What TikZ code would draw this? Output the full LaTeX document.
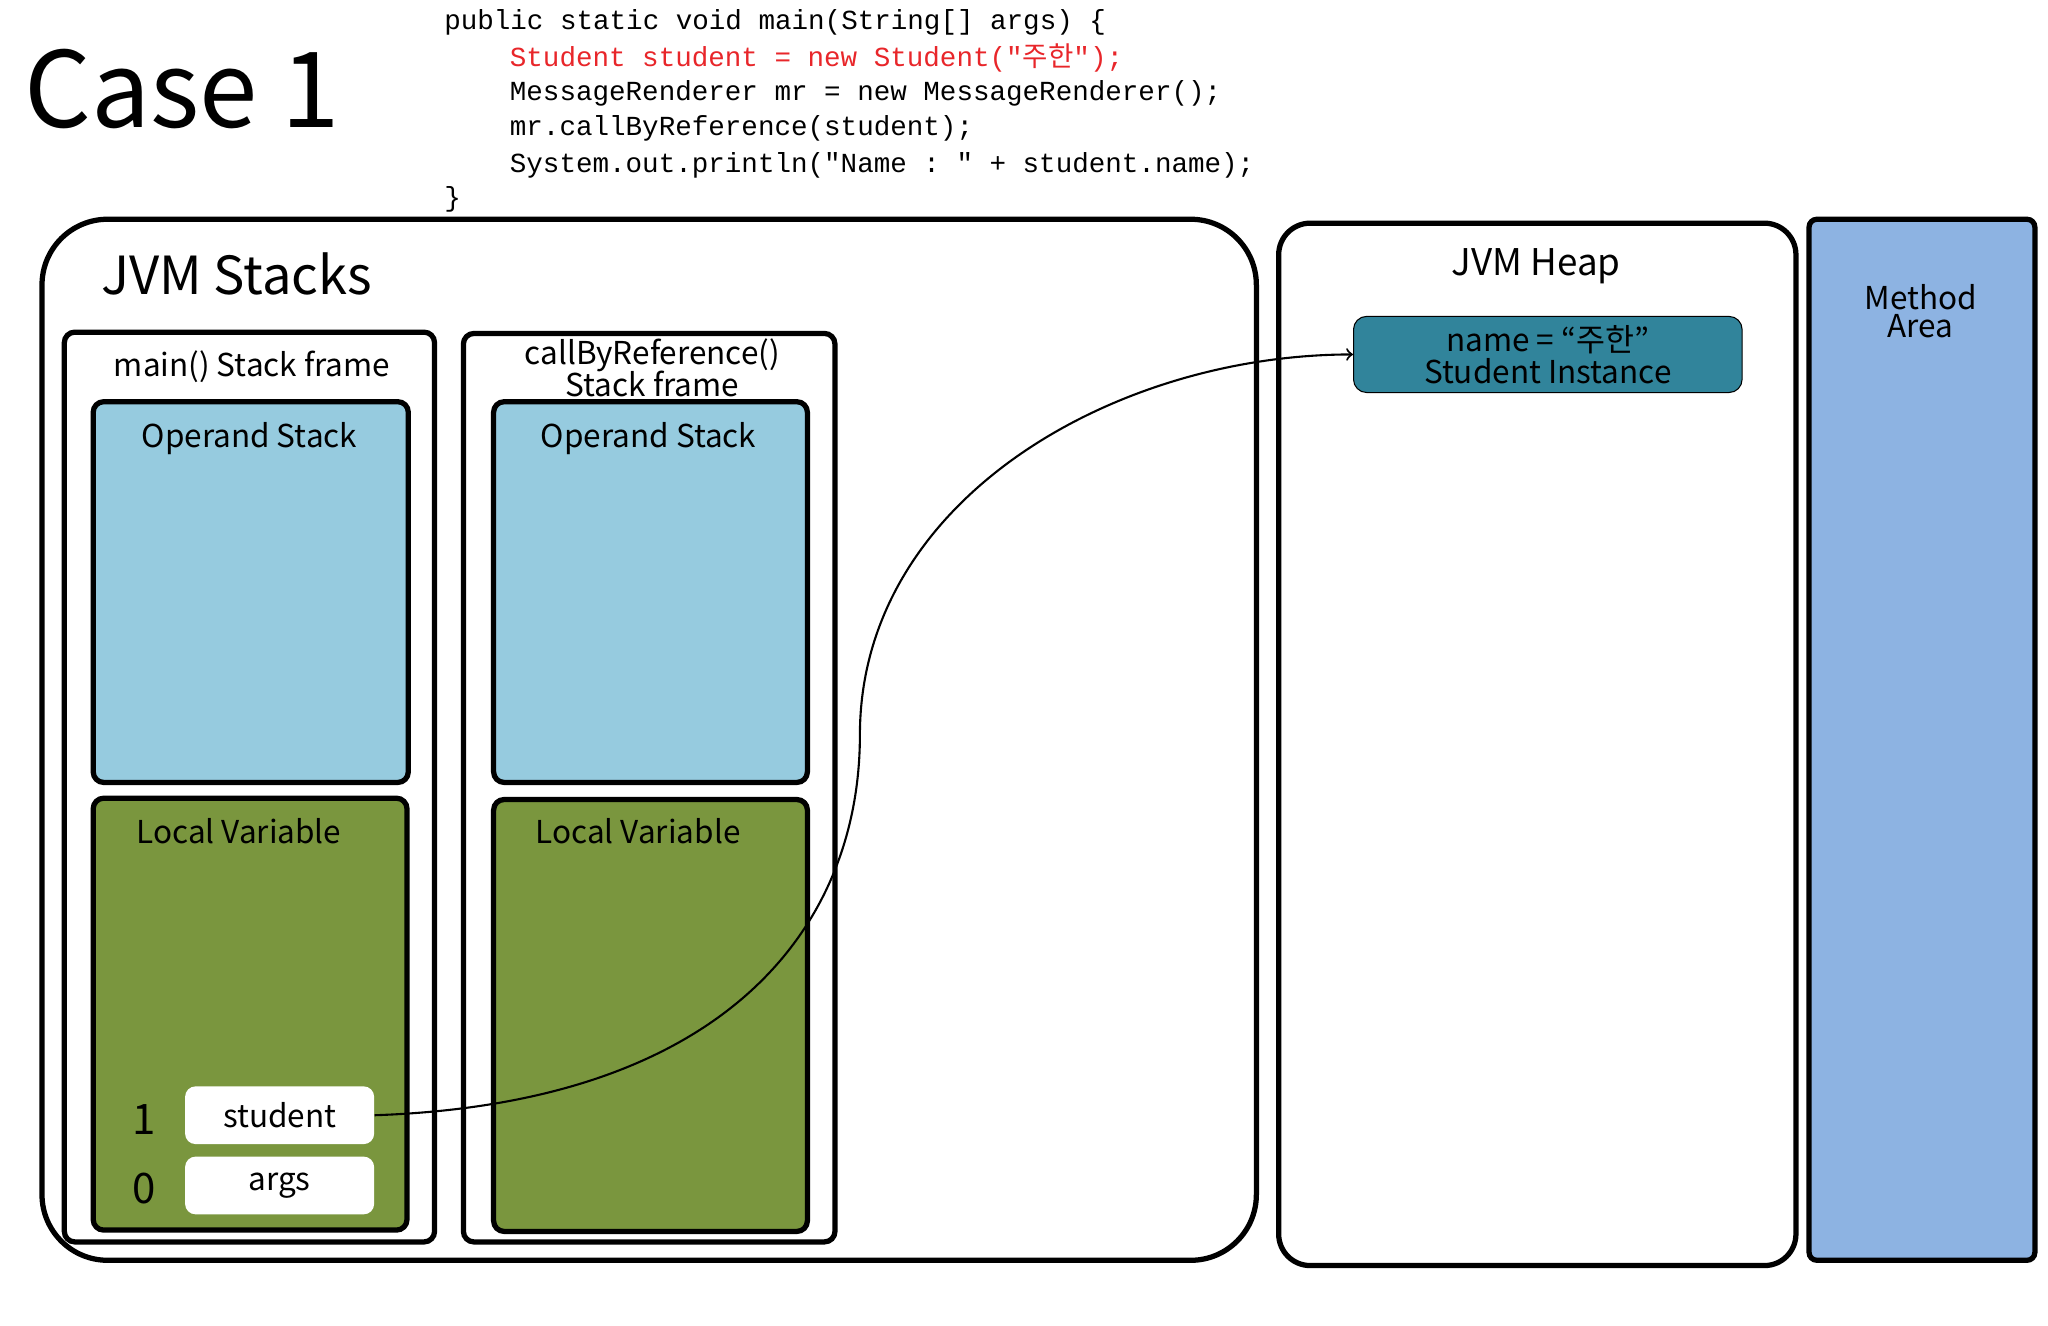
\documentclass[tikz,border=0pt]{standalone}
\usepackage{fontspec}
\setmainfont{Noto Sans CJK KR}
\setmonofont{Liberation Mono}
\newfontfamily\kr{Noto Sans CJK KR}
\begin{document}
\begin{tikzpicture}[x=0.5pt,y=-0.5pt,
  frame/.style={draw,line width=2pt,rounded corners=6pt},
  opbox/.style={draw,line width=2pt,rounded corners=4pt,fill=opblue},
  lvbox/.style={draw,line width=2pt,rounded corners=4pt,fill=lvgreen},
  slot/.style={fill=white,rounded corners=4pt},
  lbl/.style={font=\fontsize{12}{14}\selectfont},
  code/.style={anchor=west,font=\ttfamily\fontsize{10.5}{12}\selectfont,inner sep=0pt}]
\definecolor{opblue}{HTML}{96CBDF}
\definecolor{lvgreen}{HTML}{7A963E}
\definecolor{heapteal}{HTML}{31849B}
\definecolor{methblue}{HTML}{8DB3E2}
\definecolor{codered}{HTML}{E8262A}
\useasboundingbox (0,0) rectangle (1560,1010);
\node[anchor=west,font=\fontsize{40}{44}\selectfont,inner sep=0pt] (case) at (18,68) {Case 1};
\node[code] (c1) at (338,17) {public static void main(String[] args) \{};
\node[code,text=codered] (c2) at (388,44) {Student student = new Student("{\kr 주한}");};
\node[code] (c3) at (388,71) {MessageRenderer mr = new MessageRenderer();};
\node[code] (c4) at (388,98) {mr.callByReference(student);};
\node[code] (c5) at (388,126) {System.out.println("Name : " + student.name);};
\node[code] (c6) at (338,152) {\}};
% stacks
\draw[frame,rounded corners=25pt] (32,167) rectangle (957,960);
\node[anchor=west,font=\fontsize{20}{24}\selectfont] (js) at (70,209) {JVM Stacks};
\draw[frame,rounded corners=4pt] (49,253) rectangle (331,946);
\node[lbl] (mt) at (192,279) {main() Stack frame};
\draw[opbox] (71,306) rectangle (311,596);
\node[lbl] (o1) at (190,334) {Operand Stack};
\draw[lvbox] (71,608) rectangle (310,937);
\node[lbl] (l1) at (182,633) {Local Variable};
\node[slot,minimum width=72pt,minimum height=22pt,lbl] (st) at (213,849.5) {student};
\node[slot,minimum width=72pt,minimum height=22pt,lbl] (ar) at (213,903) {args};
\node[font=\fontsize{16}{18}\selectfont] (n1) at (110,853) {1};
\node[font=\fontsize{16}{18}\selectfont] (n0) at (110,905) {0};
\draw[frame,rounded corners=4pt] (353,254) rectangle (636,946);
\node[lbl,align=center,inner sep=0pt] (ct) at (497,280) {callByReference()\\[-2pt]Stack frame};
\draw[opbox] (376,306) rectangle (615,596);
\node[lbl] (o2) at (494,334) {Operand Stack};
\draw[lvbox] (376,609) rectangle (615,938);
\node[lbl] (l2) at (486,633) {Local Variable};
% heap
\draw[frame,rounded corners=12pt] (974,170) rectangle (1368,964);
\node[font=\fontsize{14}{16}\selectfont] (jh) at (1170,203) {JVM Heap};
\node[draw,fill=heapteal,rounded corners=5pt,minimum width=148pt,minimum height=29pt,lbl,align=center,inner sep=0pt] (si) at (1179,270) {name = “{\kr 주한}”\\[-2pt]Student Instance};
% method
\draw[draw,line width=2pt,rounded corners=3pt,fill=methblue] (1378,167) rectangle (1550,960);
\node[lbl,align=center] (ma) at (1463,237) {Method\\[-3pt]Area};
\draw[thick,->] (st.east) .. controls (560,840) and (655,700) .. (655,560) .. controls (655,380) and (850,270) .. (si.west);
\end{tikzpicture}
\end{document}
